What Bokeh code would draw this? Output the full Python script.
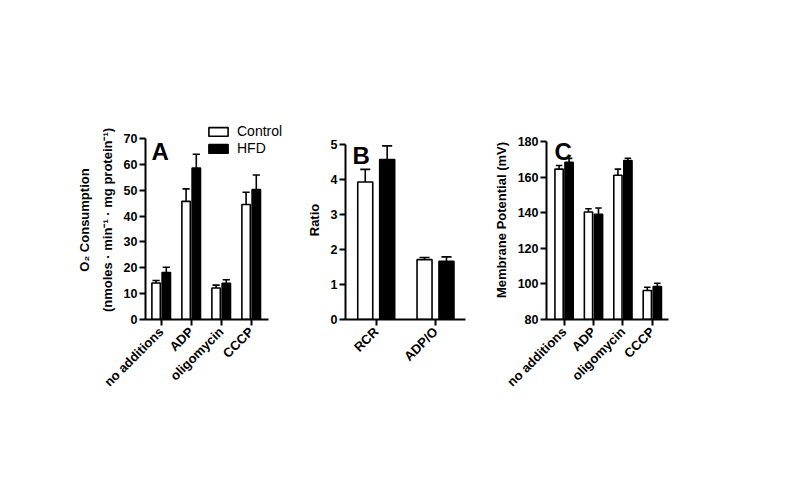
import math
from bokeh.plotting import figure
from bokeh.models import Range1d, FixedTicker, Label, Legend, LegendItem
from bokeh.layouts import row
from bokeh.embed import file_html
from bokeh.resources import INLINE

# ---------------- data ----------------
cats_a = ["no additions", "ADP", "oligomycin", "CCCP"]
ctrl_a = [14.1, 45.7, 12.2, 44.5]
ctrl_a_err = [1.0, 4.8, 1.1, 4.7]
hfd_a = [18.2, 58.6, 14.0, 50.3]
hfd_a_err = [2.0, 5.3, 1.4, 5.6]
yticks_a = [0, 10, 20, 30, 40, 50, 60, 70]

cats_b = ["RCR", "ADP/O"]
ctrl_b = [3.93, 1.71]
ctrl_b_err = [0.36, 0.06]
hfd_b = [4.57, 1.66]
hfd_b_err = [0.39, 0.13]
yticks_b = [0, 1, 2, 3, 4, 5]

cats_c = ["no additions", "ADP", "oligomycin", "CCCP"]
ctrl_c = [164.5, 140.4, 161.0, 96.3]
ctrl_c_err = [2.0, 1.8, 3.5, 1.8]
hfd_c = [168.3, 139.1, 169.3, 98.5]
hfd_c_err = [2.2, 3.5, 1.3, 1.9]
yticks_c = [80, 100, 120, 140, 160, 180]

series_names = ["Control", "HFD"]
panel_letters = ["A", "B", "C"]
ylabel_a = "O\u2082 Consumption\n(nmoles \u00b7 min\u207b\u00b9 \u00b7 mg protein\u207b\u00b9)"
ylabel_b = "Ratio"
ylabel_c = "Membrane Potential (mV)"

FONT = "Liberation Sans"
H = 470
TOP = 120      # common frame top (px)
BOTTOM = 151   # common bottom border (px)
FRAME_H = H - TOP - BOTTOM


def panel(cats, ctrl, ctrl_err, hfd, hfd_err, yticks, ylabel, letter,
          width, xr, x_axis_end, bl, br, axis_top_px, off, bw, cap, letter_pos):
    n = len(cats)
    base = yticks[0]
    top_val = yticks[-1]
    # extend the range so that the top tick sits axis_top_px below frame top
    y_end = base + (top_val - base) * FRAME_H / (FRAME_H - axis_top_px)
    p = figure(width=width, height=H, x_range=Range1d(*xr),
               y_range=Range1d(base, y_end),
               output_backend="svg", toolbar_location=None,
               min_border_left=bl, min_border_right=br,
               min_border_top=TOP, min_border_bottom=BOTTOM)
    p.outline_line_color = None
    p.grid.visible = False
    p.background_fill_color = "white"
    p.border_fill_color = "white"

    xc = [i - off for i in range(n)]
    xh = [i + off for i in range(n)]
    rc = p.vbar(x=xc, top=ctrl, bottom=base, width=bw, fill_color="white",
                line_color="black", line_width=1.6)
    rh = p.vbar(x=xh, top=hfd, bottom=base, width=bw, fill_color="black",
                line_color="black", line_width=1.6)
    for xs, v, e in ((xc, ctrl, ctrl_err), (xh, hfd, hfd_err)):
        tops = [a + b for a, b in zip(v, e)]
        p.segment(x0=xs, x1=xs, y0=v, y1=tops, line_color="black", line_width=1.6)
        p.segment(x0=[x - cap for x in xs], x1=[x + cap for x in xs],
                  y0=tops, y1=tops, line_color="black", line_width=1.6)

    for ax in (p.xaxis[0], p.yaxis[0]):
        ax.axis_line_width = 2
        ax.major_tick_line_width = 2
        ax.major_tick_out = 6
        ax.major_tick_in = 0
        ax.minor_tick_out = 0
        ax.minor_tick_in = 0
        ax.major_label_text_font = FONT
        ax.major_label_text_font_style = "bold"
        ax.major_label_text_color = "black"
        ax.axis_line_color = "black"
        ax.major_tick_line_color = "black"
    p.yaxis.ticker = FixedTicker(ticks=yticks)
    p.yaxis.bounds = (base, top_val)
    p.yaxis.major_label_text_font_size = "12.5px"
    p.yaxis.major_label_standoff = 2
    p.yaxis.axis_label = ylabel
    p.yaxis.axis_label_text_font = FONT
    p.yaxis.axis_label_text_font_style = "bold"
    p.yaxis.axis_label_text_font_size = "13px"
    p.yaxis.axis_label_text_color = "black"
    p.yaxis.axis_label_text_line_height = 1.5
    p.yaxis.axis_label_standoff = 6

    p.xaxis.ticker = FixedTicker(ticks=list(range(n)))
    p.xaxis.bounds = (xr[0], x_axis_end)
    p.xaxis.major_label_overrides = {i: c for i, c in enumerate(cats)}
    p.xaxis.major_label_orientation = math.pi / 4
    p.xaxis.major_label_text_font_size = "13px"
    p.xaxis.major_label_standoff = 4

    p.add_layout(Label(x=letter_pos[0], y=letter_pos[1], x_units="screen",
                       y_units="screen", text=letter, text_font=FONT,
                       text_font_style="bold", text_font_size="24px",
                       text_baseline="alphabetic", text_color="black"))
    return p, rc, rh


# panel A: frame widened to the right so the legend is not clipped;
# the x axis line itself stops at x_axis_end (as in the reference)
pA, rcA, rhA = panel(cats_a, ctrl_a, ctrl_a_err, hfd_a, hfd_a_err, yticks_a,
                     ylabel_a, panel_letters[0], 300, (-0.523, 4.577), 3.577,
                     145, 2, 138 - TOP, 0.17, 0.28, 0.12, (6, 168))
legend = Legend(items=[LegendItem(label=series_names[0], renderers=[rcA]),
                       LegendItem(label=series_names[1], renderers=[rhA])],
                location=(61, 163), orientation="vertical",
                glyph_width=24, glyph_height=11, label_standoff=7,
                label_text_font=FONT, label_text_font_size="14px",
                label_text_color="black",
                label_height=14, spacing=1, padding=0, margin=0,
                border_line_alpha=0, background_fill_alpha=0)
pA.add_layout(legend)

pB, _, _ = panel(cats_b, ctrl_b, ctrl_b_err, hfd_b, hfd_b_err, yticks_b,
                 ylabel_b, panel_letters[1], 190, (-0.518, 1.506), 1.506,
                 45, 25, 144 - TOP, 0.185, 0.253, 0.085, (7, 164))

pC, _, _ = panel(cats_c, ctrl_c, ctrl_c_err, hfd_c, hfd_c_err, yticks_c,
                 ylabel_c, panel_letters[2], 289, (-0.597, 3.55), 3.55,
                 55, 111, 141 - TOP, 0.17, 0.28, 0.11, (8, 168))

layout = row(pA, pB, pC)
open("out.html", "w").write(file_html(layout, INLINE))
